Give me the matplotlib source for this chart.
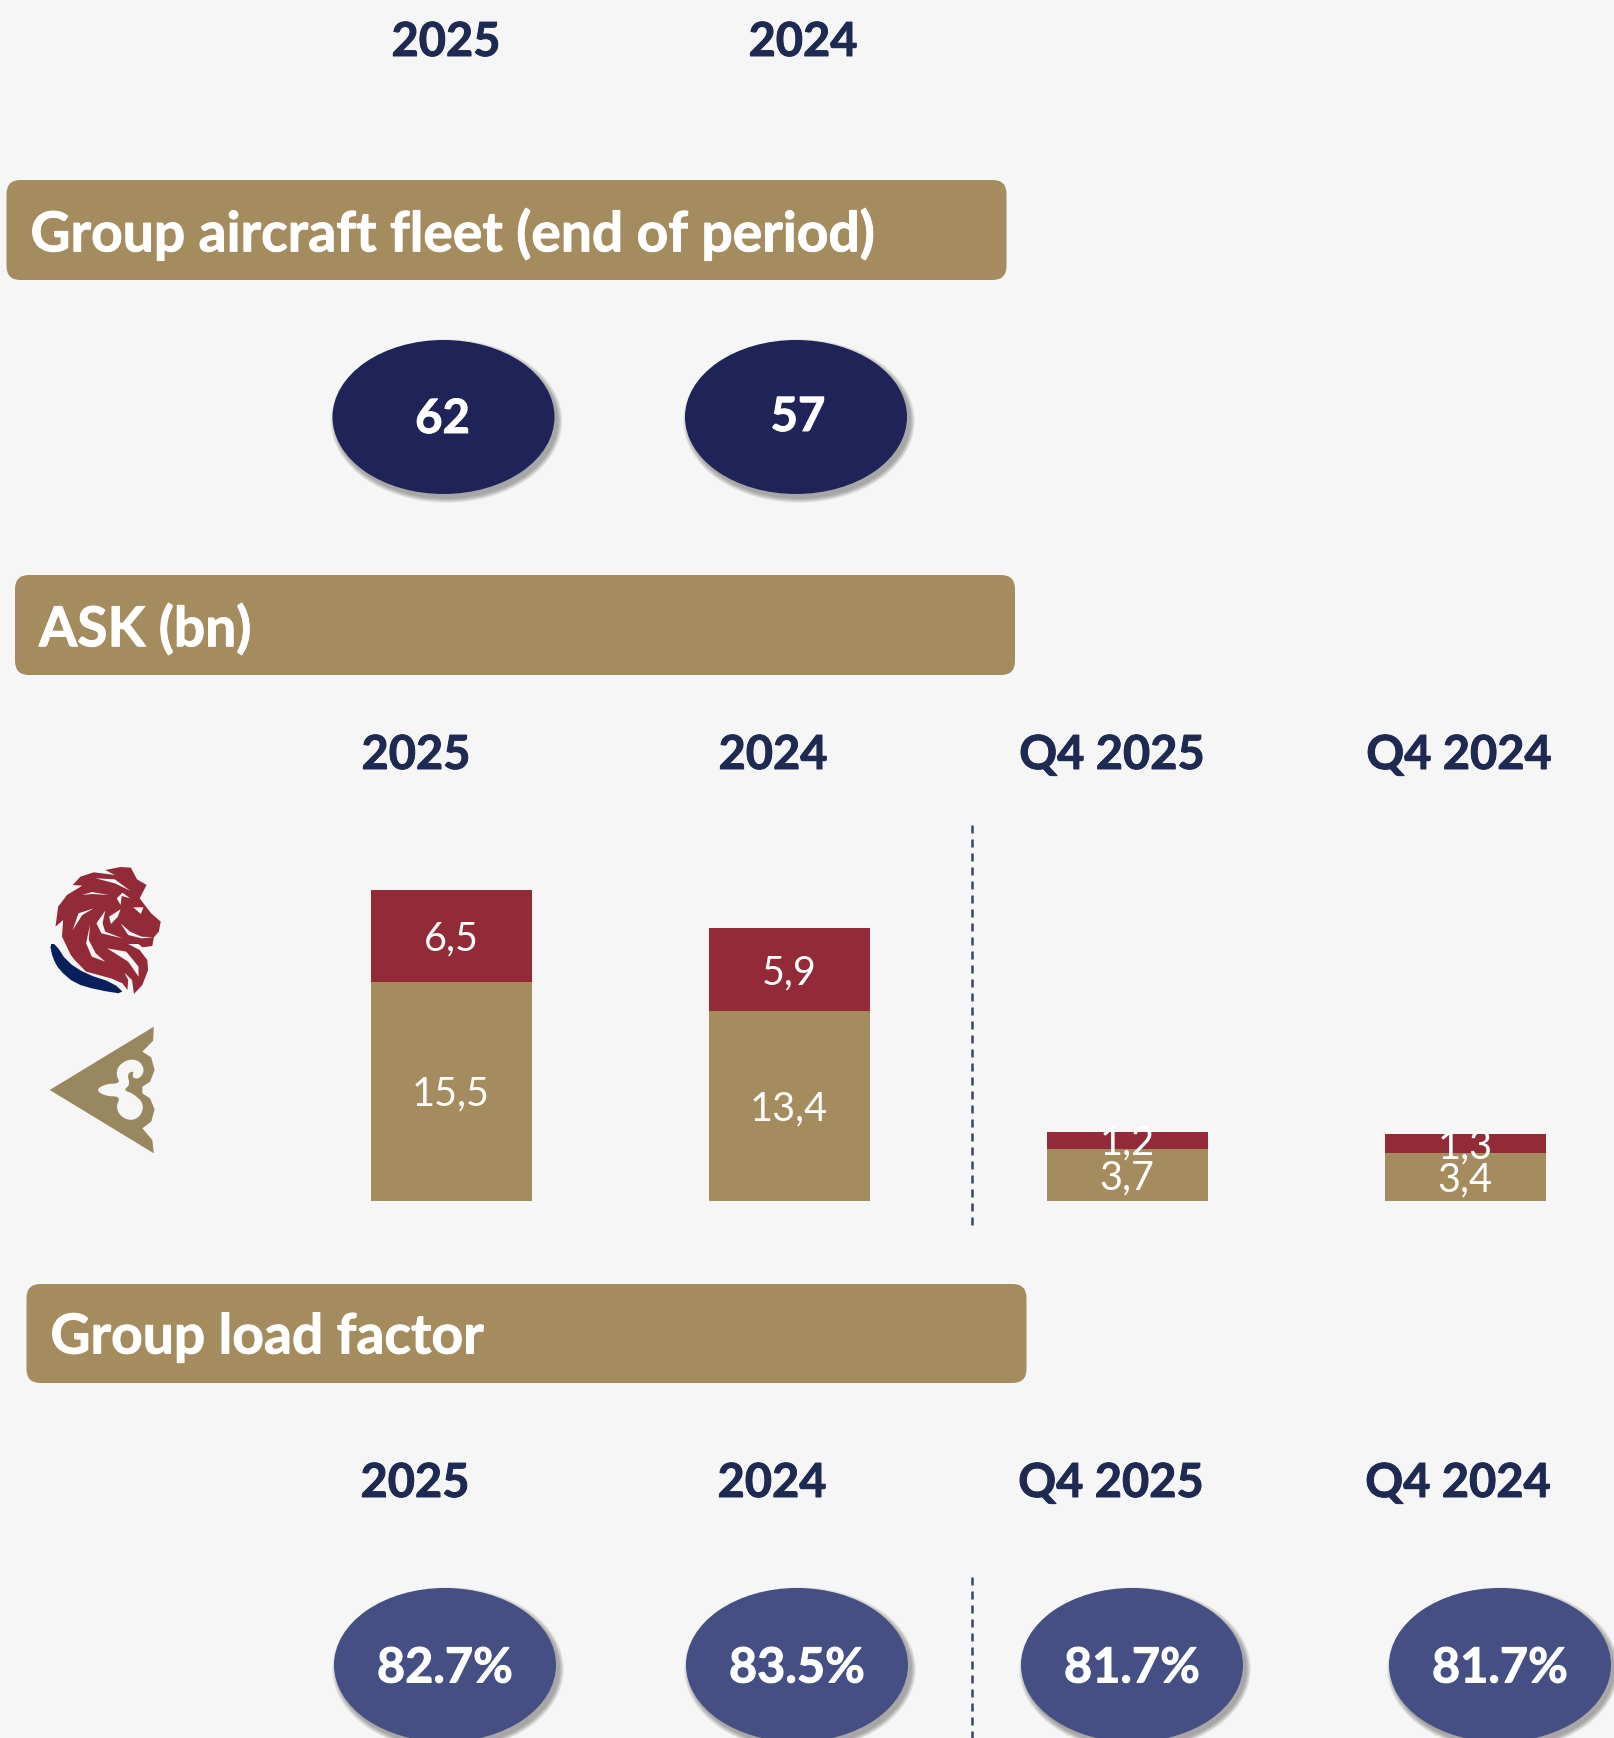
import numpy as np
import matplotlib
matplotlib.use("Agg")
import matplotlib.pyplot as plt
import matplotlib.patheffects as pe
from matplotlib.patches import Ellipse, FancyBboxPatch, Polygon

plt.rcParams['font.family'] = ['Lato', 'DejaVu Sans']

# data
ask_periods = ["2025", "2024", "Q4 2025", "Q4 2024"]
ask_gold = [15.5, 13.4, 3.7, 3.4]
ask_red = [6.5, 5.9, 1.2, 1.3]
fleet_years = ["2025", "2024"]
fleet_values = ["62", "57"]
load_periods = ["2025", "2024", "Q4 2025", "Q4 2024"]
load_values = ["82.7%", "83.5%", "81.7%", "81.7%"]
headers = ["Group aircraft fleet (end of period)", "ASK (bn)", "Group load factor"]

BG = "#F6F6F6"
GOLD = "#A58C5F"
RED = "#922B37"
NAVY = "#1F2358"
SLATE = "#454F83"
TEXT = "#1F2A52"

W, H = 1614, 1738
fig = plt.figure(figsize=(W / 100, H / 100), dpi=100, facecolor=BG)

# whole figure in pixel coordinates for the slide furniture
bg = fig.add_axes([0, 0, 1, 1])
bg.set_xlim(0, W)
bg.set_ylim(H, 0)
bg.axis("off")


def heavy(color):
    return [pe.withStroke(linewidth=0.7, foreground=color)]


def header(x0, y0, x1, y1, label):
    box = FancyBboxPatch((x0 + 14, y0 + 14), x1 - x0 - 28, y1 - y0 - 28,
                         boxstyle="round,pad=14,rounding_size=14", fc=GOLD, ec="none")
    bg.add_patch(box)
    bg.text(x0 + 24, (y0 + y1) / 2 + 4, label, color="white", fontsize=39.7, fontweight="bold",
            ha="left", va="center", path_effects=heavy("white"))


def bubble(cx, cy, label, color, size=35, dx=0, dy=3):
    w, h = 222, 154
    for i in range(10):
        grow = 10 - i
        bg.add_patch(Ellipse((cx + 3, cy + 4), w + grow, h + grow, fc="black", ec="none", alpha=0.035))
    bg.add_patch(Ellipse((cx, cy), w, h, fc=color, ec="none"))
    bg.text(cx + dx, cy + dy, label, color="white", fontsize=size, fontweight="bold", ha="center", va="center",
            path_effects=heavy("white"))


def year_label(cx, cy, label):
    bg.text(cx, cy, label, color=TEXT, fontsize=33.8, fontweight="bold", ha="center", va="center",
            path_effects=heavy(TEXT))


header(6.5, 180, 1006.5, 280, headers[0])
header(15, 575, 1015, 675, headers[1])
header(26.5, 1284, 1026.5, 1383, headers[2])

for cx, lab in zip([446, 803], fleet_years):
    year_label(cx, 42, lab)
bubble(443.5, 417, fleet_values[0], NAVY, size=34, dx=-1, dy=2)
bubble(796, 417, fleet_values[1], NAVY, size=34, dx=2, dy=0)

for cx, lab in zip([416, 773, 1112, 1459], ask_periods):
    year_label(cx, 755, lab)
for cx, lab in zip([415, 772, 1111, 1458], load_periods):
    year_label(cx, 1483, lab)
for cx, val in zip([445, 797, 1132, 1500], load_values):
    bubble(cx, 1665, val, SLATE)

for y0, y1 in [(825, 1226), (1577, 1738)]:
    bg.plot([972, 972], [y0, y1], color="#3A4470", lw=1.8, dashes=(3.2, 2.4))


def logo_xy(pts, smooth=0):
    pts = np.array(pts, dtype=float)
    for _ in range(smooth):
        nxt = np.roll(pts, -1, axis=0)
        pts = np.column_stack([0.75 * pts + 0.25 * nxt, 0.25 * pts + 0.75 * nxt]).reshape(-1, 2)
    return np.column_stack([pts[:, 0] / 2.613, 820 + pts[:, 1] / 3])


lion = [(350, 522), (372, 495), (387, 450), (385, 420), (365, 390), (335, 372), (362, 372), (372, 382),
        (398, 378), (402, 352), (415, 335), (420, 305), (395, 280), (365, 235), (383, 195), (358, 178),
        (342, 143), (315, 141), (275, 150), (300, 165), (245, 157), (210, 170), (190, 195), (215, 197),
        (175, 225), (152, 260), (145, 320), (165, 300), (162, 350), (185, 405), (195, 420), (225, 455),
        (290, 475), (320, 490), (333, 510), (335, 480), (325, 458), (345, 480)]
lion_cuts = [
    [(250, 175), (300, 178), (340, 212), (300, 190)],
    [(215, 225), (240, 216), (285, 225), (240, 222)],
    [(305, 235), (320, 218), (340, 235), (318, 228), (315, 255)],
    [(190, 330), (205, 280), (245, 265), (215, 285)],
    [(252, 310), (275, 272), (268, 310), (275, 335), (320, 355), (265, 340)],
    [(290, 312), (285, 290), (315, 268), (308, 290)],
    [(225, 370), (235, 315), (232, 360), (250, 400), (275, 425), (240, 410)],
    [(280, 385), (330, 395), (362, 440), (362, 470), (335, 425)],
    [(315, 310), (340, 335), (370, 350), (400, 352), (370, 355), (335, 345)],
    [(348, 262), (375, 262), (368, 282)],
]
swoosh = [(130, 372), (145, 372), (175, 425), (225, 462), (295, 488), (328, 523), (255, 510), (195, 490),
          (155, 450), (138, 415)]
ornament = [(130, 810), (402, 620), (400, 662), (372, 695), (395, 712), (404, 750), (392, 785), (372, 800),
            (372, 820), (392, 835), (404, 868), (395, 905), (372, 925), (398, 960), (402, 1000)]
ornament_cut = [(250, 810), (275, 792), (315, 790), (303, 765), (310, 735), (340, 716), (368, 725), (378, 755),
                (362, 778), (345, 772), (350, 752), (332, 762), (340, 795), (322, 810), (350, 822), (375, 850),
                (370, 885), (345, 903), (315, 890), (303, 860), (315, 830), (275, 828)]

bg.add_patch(Polygon(logo_xy(lion), closed=True, fc=RED, ec="none"))
for cut in lion_cuts:
    bg.add_patch(Polygon(logo_xy(cut), closed=True, fc=BG, ec="none"))
bg.add_patch(Polygon(logo_xy(swoosh, smooth=1), closed=True, fc="#06205C", ec="none"))
bg.add_patch(Polygon(logo_xy(ornament), closed=True, fc="#998760", ec="none"))
bg.add_patch(Polygon(logo_xy(ornament_cut, smooth=2), closed=True, fc=BG, ec="none"))

# ASK stacked bars: 338 px per category, 14.15 px per bn, baseline at y=1201
px_cat, px_bn, first_x, base_y = 338, 14.15, 451, 1201
top_y = 800
ax = fig.add_axes([282 / W, (H - base_y) / H, (W - 282) / W, (base_y - top_y) / H])
ax.patch.set_alpha(0)
ax.set_xlim((282 - first_x) / px_cat, (W - first_x) / px_cat)
ax.set_ylim(0, (base_y - top_y) / px_bn)
ax.axis("off")

x = np.arange(len(ask_periods))
bar_w = 161 / px_cat
ax.bar(x, ask_gold, width=bar_w, color=GOLD)
ax.bar(x, ask_red, width=bar_w, bottom=ask_gold, color=RED)
for i in x:
    ax.text(i, ask_gold[i] / 2 - 0.2, f"{ask_gold[i]:.1f}".replace(".", ","), color="white", fontsize=28.5,
            ha="center", va="center", clip_on=False)
    ax.text(i, ask_gold[i] + ask_red[i] / 2 - 0.2, f"{ask_red[i]:.1f}".replace(".", ","), color="white", fontsize=28.5,
            ha="center", va="center", clip_on=False)

fig.savefig("out.png", dpi=100, facecolor=BG)
